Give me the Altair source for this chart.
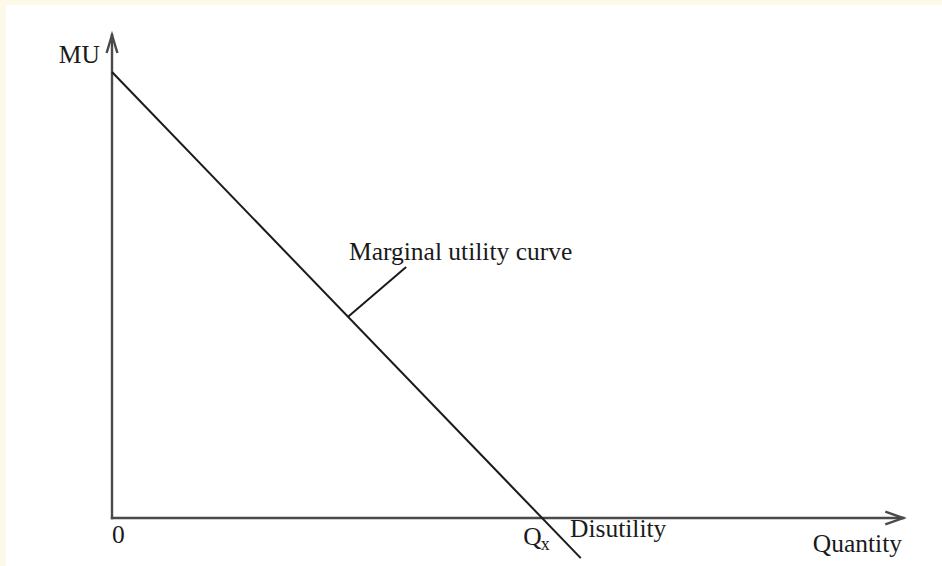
import altair as alt
import pandas as pd

# Marginal utility schedule: MU falls linearly to zero at Qx, then turns negative (disutility)
curve_quantity = [0.0, 10.9]
curve_mu = [10.0, -0.9]

# Axis extents (arrow tips)
x_axis_end = 18.4
y_axis_end = 10.83

# Leader line from the curve to its label
leader_quantity = [5.49, 6.84]
leader_mu = [4.51, 5.63]

# Text labels (left aligned)
left_text = ["Marginal utility curve", "0", "Q", "Disutility"]
left_q = [5.51, 0.0, 9.56, 10.65]
left_mu = [5.78, -0.56, -0.605, -0.43]

# Text labels (right aligned)
right_text = ["MU", "Quantity"]
right_q = [-0.28, 18.37]
right_mu = [10.2, -0.76]

# Subscript of Qx
sub_text = ["x"]
sub_q = [9.97]
sub_mu = [-0.72]

FONT = "Liberation Serif"
INK = "#1a1a1a"
AXIS = "#4a4a4a"

xs = alt.Scale(domain=[-2.465, 19.30], nice=False, zero=False)
ys = alt.Scale(domain=[-1.076, 11.502], nice=False, zero=False)

curve_df = pd.DataFrame({"q": curve_quantity, "mu": curve_mu})
leader_df = pd.DataFrame({"q": leader_quantity, "mu": leader_mu})
axes_df = pd.DataFrame({
    "q": [0.0, 0.0], "q2": [x_axis_end, 0.0],
    "mu": [0.0, 0.0], "mu2": [0.0, y_axis_end],
})
arrow_x_df = pd.DataFrame({"q": [x_axis_end], "mu": [0.0]})
arrow_y_df = pd.DataFrame({"q": [0.0], "mu": [y_axis_end]})
left_df = pd.DataFrame({"t": left_text, "q": left_q, "mu": left_mu})
right_df = pd.DataFrame({"t": right_text, "q": right_q, "mu": right_mu})
sub_df = pd.DataFrame({"t": sub_text, "q": sub_q, "mu": sub_mu})

X = alt.X("q:Q", scale=xs, axis=None)
Y = alt.Y("mu:Q", scale=ys, axis=None)

axes = alt.Chart(axes_df).mark_rule(color=AXIS, strokeWidth=2.4, strokeCap="square").encode(
    x=X, x2="q2:Q", y=Y, y2="mu2:Q"
)

arrow_x = alt.Chart(arrow_x_df).mark_point(
    shape="M-1,-0.36L0,0L-1,0.36", size=1296, filled=False,
    stroke=AXIS, strokeWidth=2.4, opacity=1
).encode(x=X, y=Y)

arrow_y = alt.Chart(arrow_y_df).mark_point(
    shape="M-0.3,1L0,0L0.3,1", size=1296, filled=False,
    stroke=AXIS, strokeWidth=2.4, opacity=1
).encode(x=X, y=Y)

curve = alt.Chart(curve_df).mark_line(color=INK, strokeWidth=2).encode(x=X, y=Y)
leader = alt.Chart(leader_df).mark_line(color=INK, strokeWidth=2).encode(x=X, y=Y)

left_labels = alt.Chart(left_df).mark_text(
    align="left", baseline="alphabetic", font=FONT, fontSize=25.5, color=INK
).encode(x=X, y=Y, text="t:N")

right_labels = alt.Chart(right_df).mark_text(
    align="right", baseline="alphabetic", font=FONT, fontSize=25.5, color=INK
).encode(x=X, y=Y, text="t:N")

sub_label = alt.Chart(sub_df).mark_text(
    align="left", baseline="alphabetic", font=FONT, fontSize=18, color=INK
).encode(x=X, y=Y, text="t:N")

chart = alt.layer(
    axes, arrow_x, arrow_y, curve, leader, left_labels, right_labels, sub_label
).properties(
    width=936, height=561,
    autosize=alt.AutoSizeParams(type="none"),
    padding={"left": 6, "top": 5, "right": 0, "bottom": 0},
    background="#fdf9e9",
).configure_view(stroke=None, fill="white")

chart.save("out.html", embed_options={"renderer": "svg", "actions": False})
